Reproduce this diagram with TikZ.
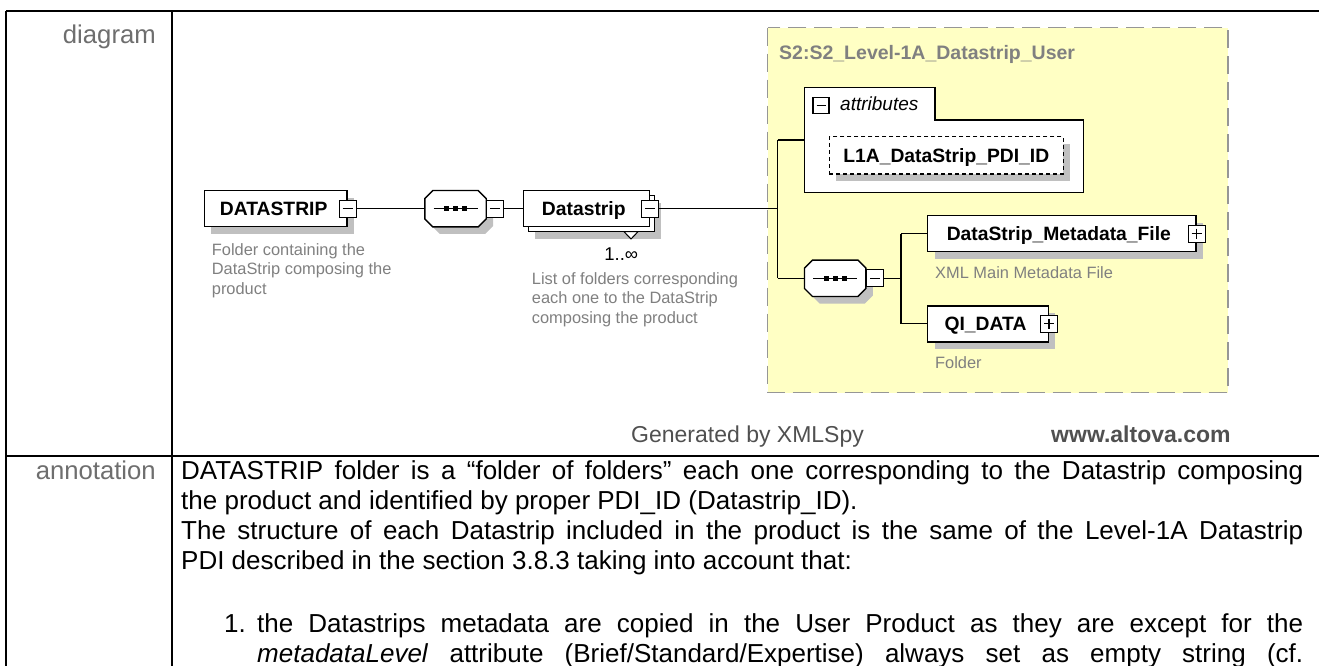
\documentclass[tikz,border=0pt]{standalone}
\usepackage{fontspec}
\setmainfont{Liberation Sans}
\usetikzlibrary{shadows,calc}
\definecolor{xyellow}{RGB}{255,255,196}
\definecolor{xshadow}{RGB}{192,192,192}
\definecolor{xgray}{RGB}{128,128,128}
\definecolor{xdash}{RGB}{150,150,150}
\definecolor{xfoot}{RGB}{80,80,80}
\definecolor{xlabel}{RGB}{110,110,110}
\tikzset{
  shd/.style={drop shadow={shadow xshift=7pt, shadow yshift=-7pt, fill=xshadow, opacity=1}},
  elem/.style={draw, line width=1.4pt, fill=white, inner sep=0pt, text height=13.8pt, text depth=0pt, minimum height=36pt, font=\fontsize{19.3}{23}\selectfont\bfseries},
  btn/.style={draw, line width=1.2pt, fill=white, minimum size=17pt, inner sep=0pt},
  minusbtn/.style={btn, path picture={\draw[line width=1.2pt] ([xshift=3.5pt]path picture bounding box.west) -- ([xshift=-3.5pt]path picture bounding box.east);}},
  plusbtn/.style={btn, path picture={\draw[line width=1.2pt] ([xshift=3.5pt]path picture bounding box.west) -- ([xshift=-3.5pt]path picture bounding box.east); \draw[line width=1.2pt] ([yshift=-3.5pt]path picture bounding box.north) -- ([yshift=3.5pt]path picture bounding box.south);}},
  conn/.style={line width=1.2pt},
  desc/.style={inner sep=0pt, align=left, text=xgray, font=\fontsize{16.4}{19.5}\selectfont},
  seqbox/.style={inner sep=0pt, minimum width=61pt, minimum height=36pt},
  rowlabel/.style={inner sep=0pt, text=xlabel, font=\fontsize{25.7}{30}\selectfont},
  body/.style={inner sep=0pt, font=\fontsize{26}{30}\selectfont},
  foot/.style={inner sep=0pt, text=xfoot, font=\fontsize{23}{27}\selectfont},
}
\newcommand\octo[1]{%
  \path ($(#1.north west)+(8,0)$) coordinate (#1-1)
        ($(#1.north east)+(-8,0)$) coordinate (#1-2)
        ($(#1.north east)+(0,8)$) coordinate (#1-3)
        ($(#1.south east)+(0,-8)$) coordinate (#1-4)
        ($(#1.south east)+(-8,0)$) coordinate (#1-5)
        ($(#1.south west)+(8,0)$) coordinate (#1-6)
        ($(#1.south west)+(0,-8)$) coordinate (#1-7)
        ($(#1.north west)+(0,8)$) coordinate (#1-8);
  \fill[xshadow] ([xshift=7pt,yshift=-7pt]#1-1) \foreach \k in {2,...,8}{-- ([xshift=7pt,yshift=-7pt]#1-\k)} -- cycle;
  \filldraw[fill=white, line width=1.4pt] (#1-1) \foreach \k in {2,...,8}{-- (#1-\k)} -- cycle;
  \draw[line width=1.2pt] ($(#1.center)+(-22,0)$) -- ($(#1.center)+(22,0)$);
  \foreach \d in {-9,0,9}{\fill ($(#1.center)+(\d,0)+(-2.3,-2.3)$) rectangle ($(#1.center)+(\d,0)+(2.3,2.3)$);}
}
\begin{document}
\begin{tikzpicture}[x=1pt,y=-1pt]
\useasboundingbox (0,0) rectangle (1319,666);
\fill[white] (0,0) rectangle (1319,666);

% table
\draw[line width=2pt] (6,11) -- (1319,11);
\draw[line width=2pt] (6,11) -- (6,666);
\draw[line width=2pt] (172,11) -- (172,666);
\draw[line width=2pt] (6,456) -- (1319,456);
\node[rowlabel, anchor=base east] (lbldiag) at (156,44) {diagram};
\node[rowlabel, anchor=base east] (lblann) at (156,479) {annotation};

% yellow complex type region
\filldraw[fill=xyellow, draw=xdash, line width=1.4pt, dash pattern=on 18pt off 8pt] (767.7,27.7) rectangle (1228,392.7);
\node[inner sep=0pt, anchor=base west, text=xgray, font=\fontsize{19.5}{23}\selectfont\bfseries] (title) at (779,59.6) {S2:S2\_Level-1A\_Datastrip\_User};

% attributes box
\filldraw[fill=white, line width=1.4pt] (804.3,192.7) -- (804.3,87.7) -- (935,87.7) -- (935,120) -- (1083.3,120) -- (1083.3,192.7) -- cycle;
\coordinate (attrW) at (804.3,140);
\node[minusbtn, minimum size=16pt] (AB) at (821,105.8) {};
\node[inner sep=0pt, anchor=base west, font=\fontsize{19}{23}\selectfont\itshape] (attrtxt) at (840,111) {attributes};
\node[elem, shd, dash pattern=on 4pt off 3pt, minimum width=234pt, minimum height=37pt] (L1A) at (946.3,155.3) {L1A\_DataStrip\_PDI\_ID};

% DATASTRIP
\node[elem, shd, minimum width=142.7pt] (DS) at (275.65,208.7) {DATASTRIP\hspace*{4pt}};
\node[minusbtn] (DSb) at (DS.east) {};
\node[desc, anchor=base west] (DSd) at (211.7,294) {Folder containing the\\DataStrip composing the\\product};

% sequence 1
\node[seqbox] (S1) at (455.5,208.7) {};
\octo{S1}
\node[minusbtn, anchor=west] (S1b) at (S1.east) {};

% Datastrip (multiple)
\node[elem, shd, minimum width=126pt] (D2bk) at (591.3,213.7) {};
\node[elem, minimum width=126pt] (D2) at (586.3,208.7) {Datastrip\hspace*{5pt}};
\node[minusbtn] (D2b) at (D2.east) {};
\draw[line width=1pt, fill=white] (624,231.7) -- (638,231.7) -- (631,239) -- cycle;
\node[inner sep=0pt, anchor=base east, font=\fontsize{18.5}{22}\selectfont] (occ) at (638.3,260) {1..∞};
\node[desc, anchor=base west] (D2d) at (531.7,323) {List of folders corresponding\\each one to the DataStrip\\composing the product};

% sequence 2
\node[seqbox] (S2) at (835.2,278.3) {};
\octo{S2}
\node[minusbtn, anchor=west] (S2b) at (S2.east) {};

% children
\node[elem, shd, minimum width=268.3pt] (DM) at (1061.85,233.7) {DataStrip\_Metadata\_File\hspace*{6pt}};
\node[plusbtn] (DMb) at (DM.east) {};
\node[desc, anchor=base west] (DMd) at (935,278) {XML Main Metadata File};
\node[elem, shd, minimum width=120.6pt] (QI) at (988,323.8) {QI\_DATA\hspace*{5pt}};
\node[plusbtn] (QIb) at (QI.east) {};
\node[desc, anchor=base west] (QId) at (935,368) {Folder};

% junctions
\coordinate (j1) at (777.7,208.7);
\coordinate (ja) at (777.7,140);
\coordinate (jb) at (777.7,278.3);
\coordinate (j2) at (901,278.3);
\coordinate (jm) at (901,233.7);
\coordinate (jq) at (901,323.8);

% connectors
\draw[conn] (DSb.east) -- (S1.west);
\draw[conn] (S1b.east) -- (D2.west);
\draw[conn] (D2b.east) -- (j1);
\draw[conn] (ja) -- (jb);
\draw[conn] (ja) -- (attrW);
\draw[conn] (jb) -- (S2.west);
\draw[conn] (S2b.east) -- (j2);
\draw[conn] (jm) -- (jq);
\draw[conn] (jm) -- (DM.west);
\draw[conn] (jq) -- (QI.west);

% footer
\node[foot, anchor=base west] (gen) at (631,442) {Generated by XMLSpy};
\node[foot, anchor=base west, font=\fontsize{23}{27}\selectfont\bfseries] (alt) at (1051,442) {www.altova.com};

% annotation text
\node[body, anchor=base west] (t1) at (181,479) {\makebox[1122pt][s]{DATASTRIP folder is a “folder of folders” each one corresponding to the Datastrip composing}};
\node[body, anchor=base west] (t2) at (181,509) {the product and identified by proper PDI\_ID (Datastrip\_ID).};
\node[body, anchor=base west] (t3) at (181,539) {\makebox[1122pt][s]{The structure of each Datastrip included in the product is the same of the Level-1A Datastrip}};
\node[body, anchor=base west] (t4) at (181,569) {PDI described in the section 3.8.3 taking into account that:};
\node[body, anchor=base west] (i1n) at (224,632) {1.};
\node[body, anchor=base west] (i1) at (257,632) {\makebox[1046pt][s]{the Datastrips metadata are copied in the User Product as they are except for the}};
\node[body, anchor=base west] (i2) at (257,662) {\makebox[1046pt][s]{\textit{metadataLevel} attribute (Brief/Standard/Expertise) always set as empty string (cf.}};
\end{tikzpicture}
\end{document}
